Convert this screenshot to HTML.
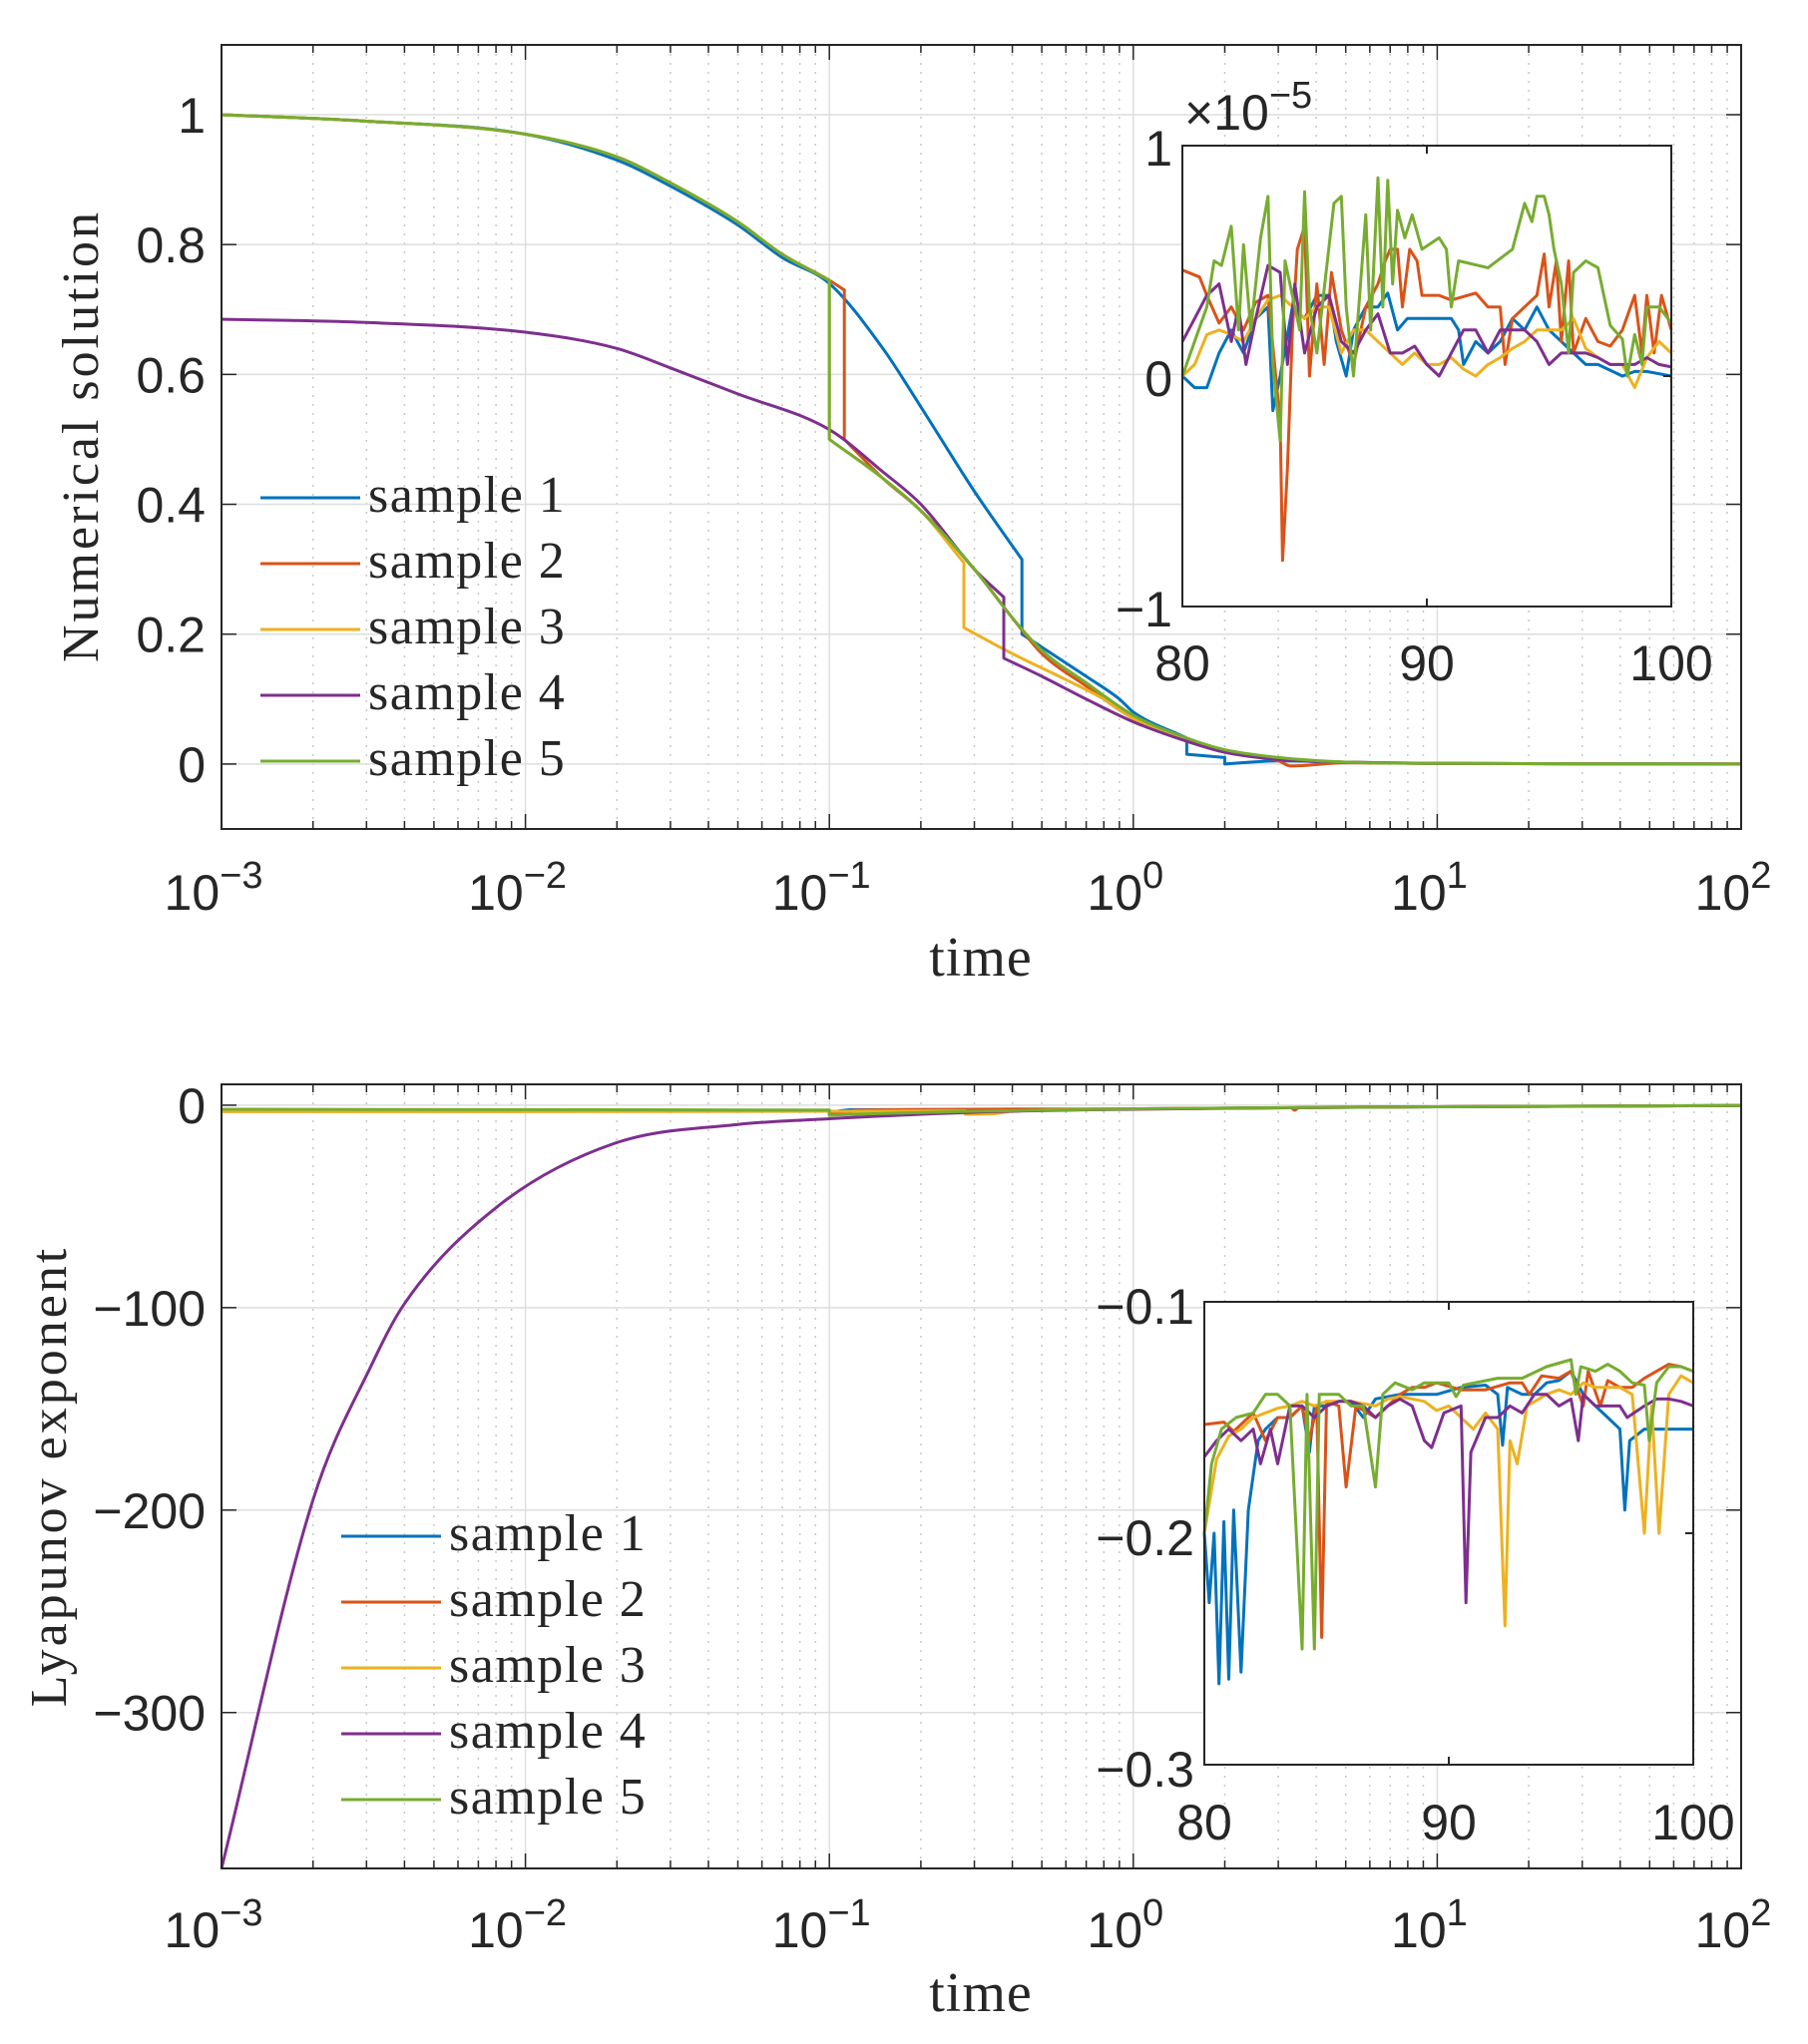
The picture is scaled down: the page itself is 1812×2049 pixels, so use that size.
<!DOCTYPE html>
<html><head><meta charset="utf-8"><style>
body{margin:0;background:#fff}
svg{display:block}
text{font-family:"Liberation Sans",sans-serif;fill:#262626}
.serif{font-family:"Liberation Serif",serif}
</style></head><body>
<svg id="fig" width="1812" height="2049" viewBox="0 0 1812 2049"></svg>
<script>
// ===== data =====
const seriesNames=["sample 1","sample 2","sample 3","sample 4","sample 5"];
const colors=["#0072BD","#D95319","#EDB120","#7E2F8E","#77AC30"];
const xTickExps=[-3,-2,-1,0,1,2];
const topYTicks=[0,0.2,0.4,0.6,0.8,1];
const topYTickLabels=["0","0.2","0.4","0.6","0.8","1"];
const botYTicks=[0,-100,-200,-300];
const botYTickLabels=["0","\u2212100","\u2212200","\u2212300"];
// top main: [time, value]
const top1=[[0.001,1],[0.003,0.99],[0.01,0.97],[0.02,0.93],[0.03,0.89],[0.05,0.83],[0.07,0.78],[0.1,0.74],[0.15,0.64],[0.2,0.55],[0.3,0.42],[0.43,0.315],[0.43,0.2],[0.5,0.18],[0.7,0.135],[0.9,0.1],[1,0.08],[1.5,0.04],[1.5,0.015],[2,0.01],[2,0.0],[3,0.005],[5,0.003],[10,0.001],[100,0]];
const top2=[[0.001,1],[0.003,0.99],[0.01,0.97],[0.02,0.935],[0.03,0.895],[0.05,0.835],[0.07,0.785],[0.1,0.745],[0.112,0.73],[0.112,0.5],[0.15,0.44],[0.2,0.39],[0.3,0.3],[0.4,0.225],[0.5,0.17],[0.7,0.12],[1,0.07],[1.5,0.035],[2,0.02],[3,0.005],[3.3,-0.003],[5,0.002],[10,0.001],[100,0]];
const top3=[[0.001,1],[0.003,0.99],[0.01,0.97],[0.02,0.935],[0.03,0.895],[0.05,0.835],[0.07,0.785],[0.1,0.745],[0.1,0.5],[0.15,0.44],[0.2,0.39],[0.277,0.31],[0.277,0.21],[0.4,0.17],[0.6,0.13],[0.8,0.1],[1,0.07],[1.5,0.035],[2,0.02],[3,0.008],[5,0.003],[10,0.001],[100,0]];
const top4=[[0.001,0.685],[0.003,0.68],[0.01,0.665],[0.02,0.64],[0.03,0.61],[0.05,0.57],[0.1,0.515],[0.15,0.45],[0.2,0.4],[0.3,0.3],[0.375,0.257],[0.375,0.163],[0.5,0.135],[0.7,0.1],[1,0.065],[1.5,0.035],[2,0.018],[3,0.007],[5,0.003],[10,0.001],[100,0]];
const top5=[[0.001,1],[0.003,0.99],[0.01,0.97],[0.02,0.935],[0.03,0.895],[0.05,0.835],[0.07,0.785],[0.1,0.745],[0.1,0.5],[0.15,0.44],[0.2,0.39],[0.3,0.3],[0.4,0.225],[0.5,0.175],[0.7,0.125],[1,0.075],[1.5,0.04],[2,0.022],[3,0.01],[5,0.003],[10,0.001],[100,0]];
const topMain=[top1,top2,top3,top4,top5];
// top inset (x1e-5): [time, value]
const ti1=[[80,0],[80.5,-0.05],[81,-0.05],[81.5,0.1],[82,0.2],[82.5,0.1],[83,0.25],[83.5,0.3],[83.7,-0.15],[84,0.0],[84.5,0.3],[85,0.25],[85.5,0.35],[86,0.35],[86.3,0.15],[86.7,0.0],[87,0.2],[87.5,0.3],[88,0.3],[88.4,0.36],[88.8,0.2],[89.2,0.25],[89.5,0.25],[90,0.25],[91,0.25],[91.3,0.2],[91.5,0.05],[92,0.15],[92.5,0.1],[93,0.15],[93.5,0.25],[94,0.2],[94.5,0.3],[95,0.2],[95.5,0.15],[96,0.1],[96.5,0.05],[97,0.05],[98,0.0],[98.5,0.02],[99,0.02],[100,0.0]];
const ti2=[[80,0.46],[80.7,0.43],[81,0.35],[81.5,0.23],[82,0.3],[82.5,0.2],[83,0.32],[83.5,0.35],[84,-0.2],[84.1,-0.8],[84.3,-0.4],[84.5,0.2],[84.7,0.55],[85,0.65],[85.2,0.0],[85.5,0.4],[85.8,0.05],[86.1,0.45],[86.5,0.2],[87,0.05],[87.5,0.3],[88,0.4],[88.3,0.5],[88.5,0.55],[88.8,0.55],[89,0.3],[89.3,0.55],[89.6,0.5],[89.8,0.35],[90.5,0.35],[91,0.33],[92,0.36],[92.5,0.3],[93,0.3],[93.2,0.05],[93.5,0.25],[94,0.3],[94.5,0.35],[94.8,0.53],[95,0.3],[95.3,0.5],[95.5,0.15],[95.8,0.5],[96,0.1],[96.5,0.25],[97,0.15],[97.5,0.13],[98,0.2],[98.5,0.35],[98.8,0.1],[99,0.35],[99.3,0.1],[99.6,0.35],[100,0.2]];
const ti3=[[80,0],[80.5,0.05],[81,0.18],[81.5,0.2],[82,0.18],[82.5,0.15],[83,0.25],[83.5,0.33],[84,0.35],[84.5,0.3],[85,0.25],[85.5,0.3],[86,0.3],[86.5,0.1],[87,0.2],[87.5,0.2],[88,0.15],[88.5,0.1],[89,0.05],[89.5,0.1],[90,0.05],[90.5,0.05],[91,0.08],[91.5,0.03],[92,0.0],[92.5,0.05],[93,0.08],[93.5,0.12],[94,0.15],[94.5,0.2],[95,0.2],[95.5,0.2],[96,0.25],[96.5,0.12],[97,0.08],[97.5,0.05],[98,0.05],[98.5,-0.05],[99,0.08],[99.5,0.15],[100,0.1]];
const ti4=[[80,0.15],[80.5,0.25],[81,0.35],[81.5,0.4],[82,0.15],[82.3,0.3],[82.6,0.05],[83,0.25],[83.5,0.48],[84,0.45],[84.3,0.05],[84.6,0.4],[85,0.1],[85.5,0.3],[86,0.35],[86.5,0.15],[87,0.1],[87.5,0.2],[88,0.27],[88.5,0.1],[89,0.1],[89.5,0.13],[90,0.05],[90.5,0.0],[91,0.1],[91.5,0.2],[92,0.2],[92.5,0.1],[93,0.2],[93.5,0.2],[94,0.2],[94.5,0.15],[95,0.05],[95.5,0.1],[96,0.1],[96.5,0.1],[97,0.08],[97.5,0.05],[98,0.05],[98.5,0.05],[99,0.08],[99.5,0.05],[100,0.04]];
const ti5=[[80,0],[81,0.3],[81.3,0.5],[81.6,0.48],[82,0.65],[82.3,0.2],[82.5,0.57],[82.8,0.2],[83.2,0.6],[83.5,0.78],[83.7,0.05],[84,-0.28],[84.2,0.5],[84.8,0.2],[85,0.8],[85.2,0.3],[85.5,0.1],[86.2,0.75],[86.5,0.78],[86.7,0.3],[87,0],[87.5,0.7],[87.7,0.2],[88,0.86],[88.2,0.3],[88.4,0.85],[88.6,0.4],[88.8,0.72],[89.1,0.6],[89.4,0.7],[89.8,0.55],[90.5,0.6],[90.8,0.55],[91,0.3],[91.3,0.5],[92.5,0.47],[93.5,0.55],[94,0.75],[94.3,0.67],[94.5,0.78],[94.8,0.78],[95,0.7],[95.2,0.55],[95.5,0.4],[95.8,0.1],[96,0.45],[96.5,0.5],[97,0.47],[97.5,0.22],[98,0.16],[98.2,0.0],[98.5,0.18],[98.8,0.05],[99,0.3],[99.5,0.3],[100,0.23]];
const topInset=[ti1,ti2,ti3,ti4,ti5];
// bottom main
const bot1=[[0.001,-2.5],[0.1,-2.6],[0.1,-3.5],[0.12,-2.2],[0.4,-2.2],[1,-1.8],[10,-0.8],[100,-0.2]];
const bot2=[[0.001,-2.6],[0.1,-2.6],[0.1,-4.5],[0.115,-4.5],[0.12,-2.5],[1,-1.8],[3.3,-1.3],[3.4,-2.5],[3.5,-1.2],[10,-0.8],[100,-0.2]];
const bot3=[[0.001,-3.2],[0.1,-3],[0.28,-2.8],[0.28,-4.5],[0.35,-4.2],[0.4,-3],[1,-1.9],[10,-0.8],[100,-0.2]];
const bot4=[[0.001,-377],[0.002,-195],[0.0031,-129],[0.004,-98],[0.0081,-50],[0.0195,-19],[0.05,-9.5],[0.1,-6.7],[0.3,-3.5],[1,-2],[10,-0.8],[100,-0.2]];
const bot5=[[0.001,-2.0],[0.1,-2.4],[0.1,-5],[0.12,-4.5],[0.3,-3],[1,-1.8],[10,-0.8],[100,-0.2]];
const botMain=[bot1,bot2,bot3,bot4,bot5];
// bottom inset
const bi1=[[80,-0.2],[80.2,-0.23],[80.4,-0.2],[80.6,-0.265],[80.8,-0.195],[81,-0.263],[81.2,-0.19],[81.5,-0.26],[81.8,-0.19],[82.2,-0.16],[82.5,-0.155],[83,-0.15],[83.5,-0.15],[84,-0.145],[84.3,-0.165],[84.5,-0.145],[85,-0.145],[85.5,-0.143],[86,-0.143],[86.5,-0.15],[87,-0.142],[88,-0.14],[88.5,-0.14],[89,-0.14],[89.5,-0.14],[90.5,-0.137],[91.5,-0.136],[92,-0.14],[92.2,-0.162],[92.4,-0.137],[93,-0.14],[93.5,-0.14],[94,-0.135],[94.5,-0.134],[95,-0.13],[95.5,-0.14],[96,-0.145],[96.5,-0.15],[97,-0.155],[97.2,-0.19],[97.4,-0.16],[98,-0.155],[99,-0.155],[100,-0.155]];
const bi2=[[80,-0.153],[80.8,-0.152],[81.2,-0.156],[82,-0.148],[82.5,-0.16],[83,-0.15],[83.5,-0.15],[84,-0.145],[84.3,-0.16],[84.6,-0.145],[84.8,-0.245],[85,-0.143],[85.5,-0.145],[85.8,-0.18],[86.2,-0.145],[87,-0.15],[87.5,-0.145],[88,-0.14],[88.5,-0.137],[89,-0.137],[89.5,-0.135],[90.5,-0.138],[91.5,-0.138],[92.5,-0.135],[93,-0.135],[93.3,-0.14],[93.8,-0.132],[94.5,-0.133],[95,-0.13],[95.5,-0.145],[95.7,-0.13],[96.2,-0.145],[96.5,-0.134],[97,-0.137],[97.5,-0.137],[98,-0.133],[98.5,-0.13],[99,-0.127],[99.5,-0.128],[100,-0.13]];
const bi3=[[80,-0.2],[80.5,-0.168],[81,-0.158],[81.5,-0.155],[82,-0.15],[82.5,-0.148],[83,-0.146],[83.5,-0.145],[84,-0.143],[84.5,-0.145],[85,-0.143],[86,-0.143],[87,-0.145],[87.5,-0.142],[88,-0.141],[88.5,-0.142],[89,-0.143],[89.5,-0.147],[90,-0.145],[90.5,-0.15],[91,-0.155],[91.5,-0.148],[92,-0.155],[92.3,-0.24],[92.5,-0.16],[92.8,-0.17],[93.2,-0.145],[94,-0.14],[94.5,-0.138],[95,-0.14],[95.5,-0.135],[96,-0.137],[97,-0.137],[97.5,-0.14],[98,-0.2],[98.3,-0.145],[98.6,-0.2],[99,-0.14],[99.5,-0.132],[100,-0.135]];
const bi4=[[80,-0.167],[80.5,-0.16],[81,-0.155],[81.5,-0.16],[82,-0.155],[82.3,-0.17],[82.7,-0.155],[83,-0.17],[83.5,-0.145],[84,-0.145],[84.5,-0.15],[85,-0.145],[85.5,-0.143],[86,-0.143],[86.5,-0.145],[87,-0.15],[87.5,-0.145],[88,-0.142],[88.5,-0.145],[89,-0.16],[89.3,-0.163],[89.8,-0.148],[90.5,-0.145],[90.7,-0.23],[90.9,-0.165],[91.5,-0.15],[92,-0.15],[92.5,-0.145],[93,-0.148],[93.5,-0.14],[94,-0.14],[94.5,-0.145],[95,-0.142],[95.3,-0.16],[95.5,-0.14],[96,-0.145],[96.5,-0.145],[97,-0.145],[97.3,-0.15],[98,-0.145],[98.5,-0.142],[99,-0.142],[99.5,-0.143],[100,-0.145]];
const bi5=[[80,-0.2],[80.3,-0.17],[80.7,-0.155],[81.3,-0.15],[82,-0.148],[82.5,-0.14],[83,-0.14],[83.5,-0.145],[84,-0.25],[84.2,-0.14],[84.5,-0.25],[84.7,-0.14],[85.5,-0.14],[86,-0.145],[86.5,-0.145],[87,-0.18],[87.3,-0.14],[87.8,-0.135],[88.5,-0.138],[89,-0.135],[89.5,-0.135],[90,-0.135],[90.3,-0.141],[90.6,-0.136],[92,-0.133],[93,-0.133],[94,-0.128],[95,-0.125],[95.2,-0.14],[95.4,-0.128],[96,-0.13],[96.5,-0.127],[97,-0.13],[97.5,-0.135],[98,-0.136],[98.2,-0.16],[98.5,-0.135],[99,-0.128],[99.5,-0.128],[100,-0.13]];
const botInset=[bi1,bi2,bi3,bi4,bi5];

// ===== drawing =====
const NS="http://www.w3.org/2000/svg";
const svg=document.getElementById('fig');
function el(tag,attrs,parent,txt){const e=document.createElementNS(NS,tag);for(const k in attrs)e.setAttribute(k,attrs[k]);if(txt!==undefined)e.textContent=txt;(parent||svg).appendChild(e);return e;}

// smooth path: monotone cubic within runs, straight vertical at jumps
function smoothPath(pts){
  let d='M'+pts[0][0].toFixed(1)+','+pts[0][1].toFixed(1);
  let runs=[],cur=[pts[0]];
  for(let i=1;i<pts.length;i++){
    if(Math.abs(pts[i][0]-pts[i-1][0])<0.5){runs.push(cur);cur=[pts[i]];}
    else cur.push(pts[i]);
  }
  runs.push(cur);
  runs.forEach((r,ri)=>{
    if(ri>0)d+='L'+r[0][0].toFixed(1)+','+r[0][1].toFixed(1);
    const n=r.length;if(n<2)return;
    const dx=[],s=[];for(let i=0;i<n-1;i++){dx.push(r[i+1][0]-r[i][0]);s.push((r[i+1][1]-r[i][1])/dx[i]);}
    const m=new Array(n);m[0]=s[0];m[n-1]=s[n-2];
    for(let i=1;i<n-1;i++){m[i]=(s[i-1]*s[i]<=0)?0:(s[i-1]+s[i])/2;}
    for(let i=0;i<n-1;i++){if(s[i]===0){m[i]=0;m[i+1]=0;continue;}
      const a=m[i]/s[i],b=m[i+1]/s[i],h=a*a+b*b;if(h>9){const t=3/Math.sqrt(h);m[i]=t*a*s[i];m[i+1]=t*b*s[i];}}
    for(let i=0;i<n-1;i++){const h=dx[i]/3;
      d+='C'+(r[i][0]+h).toFixed(1)+','+(r[i][1]+m[i]*h).toFixed(1)+' '+(r[i+1][0]-h).toFixed(1)+','+(r[i+1][1]-m[i+1]*h).toFixed(1)+' '+r[i+1][0].toFixed(1)+','+r[i+1][1].toFixed(1);}
  });
  return d;
}

function drawMain(cfg){
  const g=el('g',{});
  
  
  const L=222,R=1745,T=cfg.T,B=cfg.B;
  const X=t=>L+(Math.log10(t)+3)/5*(R-L);
  const Y=v=>T+(cfg.ymax-v)/(cfg.ymax-cfg.ymin)*(B-T);
  for(let d=-3;d<2;d++)for(let m=2;m<10;m++){const x=X(m*Math.pow(10,d));
    el('line',{x1:x,x2:x,y1:T,y2:B,stroke:'#c8c8c8','stroke-width':1.5,'stroke-dasharray':'2 7'},g);
    el('line',{x1:x,x2:x,y1:B,y2:B-8,stroke:'#262626','stroke-width':1.5},g);
    el('line',{x1:x,x2:x,y1:T,y2:T+8,stroke:'#262626','stroke-width':1.5},g);}
  xTickExps.forEach(e=>{const x=X(Math.pow(10,e));
    el('line',{x1:x,x2:x,y1:T,y2:B,stroke:'#dedede','stroke-width':1.5},g);
    el('line',{x1:x,x2:x,y1:B,y2:B-15,stroke:'#262626','stroke-width':1.5},g);
    el('line',{x1:x,x2:x,y1:T,y2:T+15,stroke:'#262626','stroke-width':1.5},g);
    const t=el('text',{x:x-8,y:cfg.xlabY,'text-anchor':'middle','font-size':50},g);
    
    
    t.textContent='10';
    el('tspan',{dy:-22,'font-size':38},t,e<0?'\u2212'+(-e):String(e));
  });
  cfg.yticks.forEach((v,i)=>{const y=Y(v);
    el('line',{x1:L,x2:R,y1:y,y2:y,stroke:'#dedede','stroke-width':1.5},g);
    el('line',{x1:L,x2:L+15,y1:y,y2:y,stroke:'#262626','stroke-width':1.5},g);
    el('line',{x1:R,x2:R-15,y1:y,y2:y,stroke:'#262626','stroke-width':1.5},g);
    const t=el('text',{x:206,y:y+18,'text-anchor':'end','font-size':50},g,cfg.ylabels[i]);
    
    
  });
  cfg.data.forEach((s,i)=>{
    const p=el('path',{d:smoothPath(s.map(q=>[X(q[0]),Y(q[1])])),fill:'none',stroke:colors[i],'stroke-width':3,'stroke-linejoin':'round'},g);
    
    
  });
  el('rect',{x:L,y:T,width:R-L,height:B-T,fill:'none',stroke:'#262626','stroke-width':2},g);
  const xl=el('text',{x:983,y:cfg.xtitleY,'text-anchor':'middle','font-size':56,'letter-spacing':1,class:'serif'},g,'time');
  
  
  const yl=el('text',{x:0,y:0,'text-anchor':'middle','font-size':52,'letter-spacing':3,class:'serif',transform:`translate(${cfg.ytitleX},${cfg.ytitleY}) rotate(-90)`},g,cfg.ytitle);
  
  
  const lg=el('g',{},g);
  
  
  seriesNames.forEach((n,i)=>{const y=cfg.legY+i*66;
    const ln=el('line',{x1:cfg.legX,x2:cfg.legX+100,y1:y,y2:y,stroke:colors[i],'stroke-width':3},lg);
    
    
    const tx=el('text',{x:cfg.legX+108,y:y+14,'font-size':52,'letter-spacing':1.5,class:'serif'},lg,n);
    
    
  });
}

function drawInset(cfg){
  const g=el('g',{});
  
  
  const L=cfg.L,R=cfg.R,T=cfg.T,B=cfg.B;
  const X=t=>L+(t-80)/20*(R-L);
  const Y=v=>T+(cfg.ymax-v)/(cfg.ymax-cfg.ymin)*(B-T);
  el('rect',{x:L,y:T,width:R-L,height:B-T,fill:'#fff'},g);
  cfg.data.forEach((s,i)=>{
    const p=el('path',{d:'M'+s.map(q=>X(q[0]).toFixed(1)+','+Y(q[1]).toFixed(1)).join('L'),fill:'none',stroke:colors[i],'stroke-width':3,'stroke-linejoin':'round'},g);
    
    
  });
  el('rect',{x:L,y:T,width:R-L,height:B-T,fill:'none',stroke:'#262626','stroke-width':2},g);
  [80,90,100].forEach(v=>{const x=X(v);
    el('line',{x1:x,x2:x,y1:B,y2:B-8,stroke:'#262626','stroke-width':2},g);
    el('line',{x1:x,x2:x,y1:T,y2:T+8,stroke:'#262626','stroke-width':2},g);
    const t=el('text',{x:x,y:cfg.xlabY,'text-anchor':'middle','font-size':50},g,String(v));
    
    
  });
  cfg.yticks.forEach((v,i)=>{const y=Y(v);
    el('line',{x1:R,x2:R-8,y1:y,y2:y,stroke:'#262626','stroke-width':2},g);
    const t=el('text',{x:L-10,y:y+cfg.ylabDy,'text-anchor':'end','font-size':50},g,cfg.ylabels[i]);
    
    
  });
  if(cfg.exp){const t=el('text',{x:L+2,y:T-16,'font-size':50},g,'\u00d710');
    
    
    el('tspan',{dy:-22,'font-size':38},t,'\u22125');}
}

drawMain({name:'top-main-axes',T:45,B:831,ymin:-0.1,ymax:1.1075,yticks:topYTicks,ylabels:topYTickLabels,data:topMain,xlabY:912,xtitleY:978,ytitle:'Numerical solution',ytitleX:98,ytitleY:437,legX:261,legY:499});
drawInset({name:'top-inset-axes',L:1185,R:1675,T:146,B:608,ymin:-1,ymax:1,yticks:[1,0,-1],ylabels:['1','0','\u22121'],data:topInset,xlabY:682,ylabDy:20,exp:true});
drawMain({name:'bottom-main-axes',T:1087,B:1873,ymin:-377,ymax:10.3,yticks:botYTicks,ylabels:botYTickLabels,data:botMain,xlabY:1952,xtitleY:2016,ytitle:'Lyapunov exponent',ytitleX:66,ytitleY:1480,legX:342,legY:1540});
drawInset({name:'bottom-inset-axes',L:1207,R:1697,T:1305,B:1769,ymin:-0.3,ymax:-0.1,yticks:[-0.1,-0.2,-0.3],ylabels:['\u22120.1','\u22120.2','\u22120.3'],data:botInset,xlabY:1844,ylabDy:22,exp:false});
</script>
</body></html>
